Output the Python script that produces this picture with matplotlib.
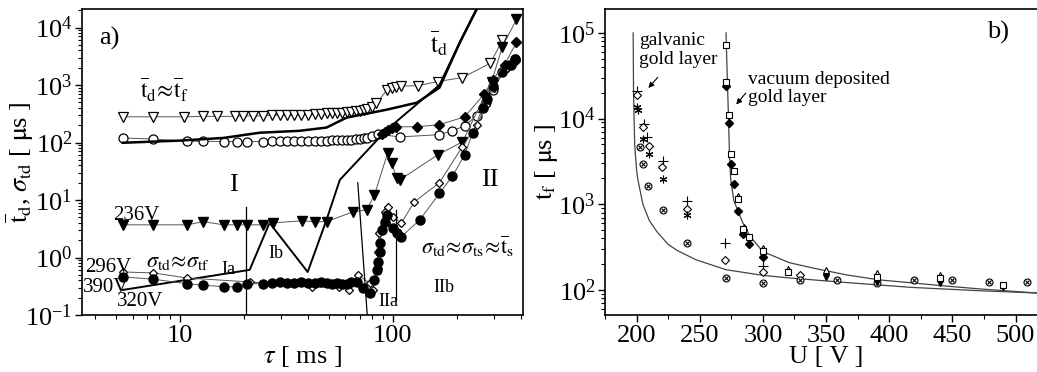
import matplotlib
matplotlib.use('Agg')
import matplotlib.pyplot as plt
from matplotlib.ticker import LogLocator, FixedLocator, NullFormatter, MultipleLocator, LogFormatterSciNotation

plt.rcParams['font.family'] = ['Liberation Serif', 'DejaVu Serif']
plt.rcParams['mathtext.fontset'] = 'stix'

# ---------------- panel a) data ----------------
tri_open_tau = [5.4, 7.5, 10.5, 12.8, 14.9, 18.1, 19.8, 22, 24.5, 27, 29.5, 32, 34.5, 37, 40, 43, 46, 49,
                52, 55, 58, 61, 64, 67, 70, 73, 76, 80, 84, 94, 99, 104, 110, 131, 163, 213, 288, 328]
tri_open_val = [280, 280, 280, 285, 285, 285, 290, 290, 290, 300, 300, 300, 300, 305, 305, 310, 310, 320,
                320, 330, 330, 340, 340, 350, 360, 370, 380, 420, 480, 820, 880, 940, 960, 970, 1150, 1350, 2400, 6000]

circ_open_tau = [5.4, 7.5, 10.8, 12.9, 16.1, 18.5, 20.8, 24.5, 27, 29.5, 32, 34.5, 37, 40, 43, 46, 49, 52,
                 55, 58, 61, 64, 67, 70, 73, 76, 80, 85, 108, 166, 191, 218, 248, 276, 295, 336, 354, 376]
circ_open_val = [120, 115, 105, 105, 104, 104, 104, 104, 105, 105, 105, 106, 106, 107, 107, 108, 108, 109,
                 110, 110, 112, 112, 114, 116, 118, 122, 130, 140, 125, 137, 160, 194, 293, 515, 830, 2000, 2270, 2780]

td_thick_tau = [5.4, 10, 16, 23.7, 36.6, 48.9, 60.8, 93.7, 130, 166, 207, 262]
td_thick_val = [99, 108, 120, 148, 160, 182, 271, 372, 493, 900, 5500, 31000]

sig320_tau = [5.4, 21.3, 26.4, 39.9, 48.9, 56.5, 93.7, 166, 207, 262]
sig320_val = [0.273, 0.61, 4.0, 0.56, 4.5, 22.4, 166, 1000, 5500, 31000]

tri_fill_tau = [5.4, 7.5, 10.8, 12.9, 16.1, 18.5, 20.8, 24.5, 27.4, 37.4, 43, 49, 64.9, 75.5, 82.2,
                94.8, 98.9, 104.4, 108, 163, 213, 292, 328, 382]
tri_fill_val = [3.7, 3.7, 3.7, 4.2, 3.7, 3.7, 3.7, 3.7, 4.0, 4.35, 4.2, 4.2, 6.2, 6.7, 12.3,
                66, 44, 24.4, 22.4, 61, 103, 1150, 4650, 13800]

circ_fill_tau = [5.4, 7.5, 10.8, 12.9, 16.1, 18.5, 20.8, 24.5, 27, 29.5, 32, 34.5, 37, 40, 43, 46, 49, 52,
                 55, 58, 61, 64, 67.8, 72.3, 78, 82.2, 84.2, 85.1, 86.9, 87.5, 88.8, 91.7, 93.7, 100, 104.4,
                 110, 134, 166, 191, 218, 238, 265, 279, 295, 328, 362, 376]
circ_fill_val = [0.46, 0.42, 0.35, 0.33, 0.31, 0.31, 0.35, 0.35, 0.36, 0.37, 0.36, 0.36, 0.37, 0.36, 0.36,
                 0.37, 0.36, 0.35, 0.36, 0.35, 0.35, 0.37, 0.38, 0.295, 0.24, 0.41, 0.61, 0.84, 1.25, 1.8,
                 3.0, 4.2, 5.5, 3.3, 2.7, 2.3, 4.5, 13, 26, 61, 148, 400, 560, 950, 1700, 2270, 2780]

diam_open_tau = [5.4, 7.5, 10.8, 21.3, 42, 55.7, 62.6, 68.6, 78, 80.6, 85, 85.5, 85.9, 91.7, 94.8, 100,
                 110, 126.5, 166, 213, 248, 276, 300, 336, 382]
diam_open_val = [0.56, 0.54, 0.44, 0.376, 0.307, 0.307, 0.27, 0.5, 0.36, 0.27, 0.66, 1.25, 2.7, 6.2, 7.6,
                 5.1, 4.0, 9.3, 20, 85, 200, 450, 900, 1800, 2600]

diam_fill_tau = [88.8, 91.7, 94.8, 98.9, 104, 130, 166, 218, 270, 295, 336, 382]
diam_fill_val = [140, 150, 165, 181, 188, 188, 204, 280, 700, 1240, 2270, 5500]

# boundary lines (tau, value) pairs
bound_Ia_tau = [20.4, 20.4]
bound_Ia_val = [7.6, 0.1]
bound_IIa_tau = [68.6, 76.0]
bound_IIa_val = [20, 0.1]
bound_IIb_tau = [104, 104]
bound_IIb_val = [6.7, 0.18]

# ---------------- panel b) data ----------------
galv_curve_U = [197.3, 197.6, 198.5, 200, 201, 205, 210, 216, 225, 232, 247, 271, 300, 321, 366, 418, 471, 517]
galv_curve_t = [1.0e5, 2.0e4, 5000, 2500, 1950, 1000, 650, 480, 340, 290, 225, 172, 148, 138, 122, 107, 98, 92]
vac_curve_U = [270.8, 271.8, 272.8, 273.5, 274.5, 277, 284, 290, 300, 321, 339, 366, 392, 418, 445, 471, 517]
vac_curve_t = [1.0e5, 3.0e4, 1.0e4, 4000, 1950, 1100, 613, 420, 280, 208, 181, 150, 131, 121, 111, 103, 92]

plus_U = [200, 206, 208, 221, 240, 270, 300]
plus_t = [21000, 8700, 6100, 3200, 1090, 350, 191]
dopen_U = [200, 205, 210, 220, 240, 270, 300, 329]
dopen_t = [19000, 8000, 4800, 2700, 870, 225, 163, 150]
ast_U = [200, 201, 205, 210, 221, 240]
ast_t = [13500, 12500, 5800, 3900, 1960, 740]
otimes_U = [202.4, 204.7, 208.7, 220.6, 239.6, 270.4, 299.7, 329, 359, 390, 420, 450, 479, 509]
otimes_t = [4700, 2950, 1630, 850, 357, 138, 121, 131, 131, 121, 131, 131, 124, 124]

sq_U = [270.4, 271, 272.8, 275, 277.5, 280, 284.6, 289, 299.7, 319.5, 390, 440, 490]
sq_t = [72000, 27000, 11000, 3900, 2450, 1150, 510, 420, 288, 163, 142, 138, 115]
dfill_U = [271, 272.8, 275, 277.5, 280, 284.6, 289, 299.7]
dfill_t = [24000, 8900, 2950, 1730, 830, 455, 340, 245]
triup_U = [280, 285, 300, 320, 350, 390, 440]
triup_t = [1250, 540, 310, 175, 172, 158, 150]
tridn_U = [350, 390, 440, 490]
tridn_t = [142, 124, 121, 108]

# ---------------- figure ----------------
W, H = 1037, 372
fig = plt.figure(figsize=(W / 100, H / 100), dpi=100)
axA = fig.add_axes([82 / W, (H - 315) / H, 441 / W, 306 / H])
axB = fig.add_axes([605 / W, (H - 315) / H, 432 / W, 306 / H])

LC = '#555555'
LW = 0.7

# panel a
axA.plot(tri_open_tau, tri_open_val, '-', color=LC, lw=LW, marker='v', ms=7, mfc='white', mec='black', mew=0.9)
axA.plot(circ_open_tau, circ_open_val, '-', color=LC, lw=LW, marker='o', ms=6.5, mfc='white', mec='black', mew=0.9)
axA.plot(td_thick_tau, td_thick_val, '-', color='black', lw=1.8)
axA.plot(sig320_tau, sig320_val, '-', color='black', lw=1.4)
axA.plot(tri_fill_tau, tri_fill_val, '-', color=LC, lw=LW, marker='v', ms=7, mfc='black', mec='black')
axA.plot(diam_open_tau, diam_open_val, '-', color=LC, lw=LW, marker='D', ms=4.5, mfc='white', mec='black', mew=0.9)
axA.plot(circ_fill_tau, circ_fill_val, '-', color=LC, lw=LW, marker='o', ms=6.5, mfc='black', mec='black')
axA.plot(diam_fill_tau, diam_fill_val, '-', color=LC, lw=LW, marker='D', ms=5, mfc='black', mec='black')
for t, v in [(bound_Ia_tau, bound_Ia_val), (bound_IIa_tau, bound_IIa_val), (bound_IIb_tau, bound_IIb_val)]:
    axA.plot(t, v, '-', color='black', lw=0.9)

axA.set_xscale('log')
axA.set_yscale('log')
axA.set_xlim(3.47, 410)
axA.set_ylim(0.1, 2.1e4)
axA.xaxis.set_major_locator(FixedLocator([10, 100]))
axA.set_xticklabels(['10', '100'])
axA.xaxis.set_minor_locator(LogLocator(base=10, subs=range(2, 10)))
axA.xaxis.set_minor_formatter(NullFormatter())
axA.yaxis.set_major_locator(LogLocator(base=10, numticks=10))
axA.yaxis.set_major_formatter(LogFormatterSciNotation())
axA.yaxis.set_minor_locator(LogLocator(base=10, subs=range(2, 10), numticks=20))
axA.yaxis.set_minor_formatter(NullFormatter())
axA.set_xlabel(r'$\tau$ [ ms ]', fontsize=19)
axA.xaxis.set_label_coords((302 - 82) / 441, (315 - 344) / 306)
axA.set_ylabel(r'$\overline{\mathrm{t}}_{\mathrm{d}}$, $\sigma_{\mathrm{td}}$ [ $\mathrm{\mu}$s ]', fontsize=19)
axA.yaxis.set_label_coords((36 - 82) / 441, 0.5)

def ta(px, py, s, size, ha='center'):
    axA.text((px - 82) / 441, (315 - py) / 306, s, transform=axA.transAxes, fontsize=size,
             ha=ha, va='center')

ta(109, 38, 'a)', 19)
ta(164, 90, r'$\overline{\mathrm{t}}_{\mathrm{d}}\!\approx\!\overline{\mathrm{t}}_{\mathrm{f}}$', 17)
ta(439, 43, r'$\overline{\mathrm{t}}_{\mathrm{d}}$', 18)
ta(233, 185, 'I', 19)
ta(490, 180, 'II', 19)
ta(136, 215, '236V', 15)
ta(178, 262, r'$\sigma_{\mathrm{td}}\!\approx\!\sigma_{\mathrm{tf}}$', 16)
ta(228, 270, 'Ia', 13)
ta(276, 254, 'Ib', 13)
ta(108, 267, '296V', 15)
ta(106, 287, '390V', 15)
ta(140, 302, '320V', 15)
ta(388, 302, 'IIa', 13)
ta(444, 287, 'IIb', 13)
ta(468, 246, r'$\sigma_{\mathrm{td}}\!\approx\!\sigma_{\mathrm{ts}}\!\approx\!\overline{\mathrm{t}}_{\mathrm{s}}$', 16)

# panel b
axB.plot(galv_curve_U, galv_curve_t, '-', color='#444444', lw=0.9)
axB.plot(vac_curve_U, vac_curve_t, '-', color='#444444', lw=0.9)
ms = 5
axB.plot(plus_U, plus_t, ls='none', marker='+', ms=ms + 1.5, mec='black', mew=0.8)
axB.plot(dopen_U, dopen_t, ls='none', marker='D', ms=ms - 0.5, mfc='white', mec='black', mew=0.8)
axB.plot(ast_U, ast_t, ls='none', marker=(6, 2, 0), ms=ms + 0.5, mec='black', mew=0.8)
axB.plot(otimes_U, otimes_t, ls='none', marker='o', ms=ms, mfc='white', mec='black', mew=0.8)
axB.plot(otimes_U, otimes_t, ls='none', marker='x', ms=ms - 2, mec='black', mew=0.8)
axB.plot(triup_U, triup_t, ls='none', marker='^', ms=ms, mfc='white', mec='black', mew=0.8)
axB.plot(tridn_U, tridn_t, ls='none', marker='v', ms=ms, mfc='black', mec='black')
axB.plot(dfill_U, dfill_t, ls='none', marker='D', ms=ms - 0.5, mfc='black', mec='black')
axB.plot(sq_U, sq_t, ls='none', marker='s', ms=ms, mfc='white', mec='black', mew=0.8)

axB.set_yscale('log')
axB.set_xlim(175, 517)
axB.set_ylim(51, 1.9e5)
axB.xaxis.set_major_locator(MultipleLocator(50))
axB.xaxis.set_minor_locator(MultipleLocator(25))
axB.yaxis.set_major_locator(LogLocator(base=10, numticks=10))
axB.yaxis.set_major_formatter(LogFormatterSciNotation())
axB.yaxis.set_minor_locator(LogLocator(base=10, subs=range(2, 10), numticks=20))
axB.yaxis.set_minor_formatter(NullFormatter())
axB.spines['right'].set_visible(False)
axB.set_xlabel('U [ V ]', fontsize=19)
axB.xaxis.set_label_coords((826 - 605) / 432, (315 - 346) / 306)
axB.set_ylabel(r'$\mathrm{t}_{\mathrm{f}}$ [ $\mathrm{\mu}$s ]', fontsize=19)
axB.yaxis.set_label_coords((560 - 605) / 432, 0.5)

axB.text(486, 1.0e5, 'b)', fontsize=19, ha='center', va='center')
axB.text(202, 63000, 'galvanic\ngold layer', fontsize=14, ha='left', va='center', linespacing=1.1)
axB.annotate('', xy=(207.9, 21500), xytext=(218.2, 32000),
             arrowprops=dict(arrowstyle='-|>', color='black', lw=0.8, mutation_scale=8))
axB.text(288, 22500, 'vacuum deposited\ngold layer', fontsize=14, ha='left', va='center', linespacing=1.1)
axB.annotate('', xy=(277.5, 13800), xytext=(287.8, 21000),
             arrowprops=dict(arrowstyle='-|>', color='black', lw=0.8, mutation_scale=8))

for ax in (axA, axB):
    ax.tick_params(which='major', direction='out', length=5, width=1, labelsize=19, pad=2)
    ax.tick_params(which='minor', direction='out', length=3, width=0.8)
    for sp in ax.spines.values():
        sp.set_linewidth(1.2)

fig.savefig('out.png', dpi=100)
